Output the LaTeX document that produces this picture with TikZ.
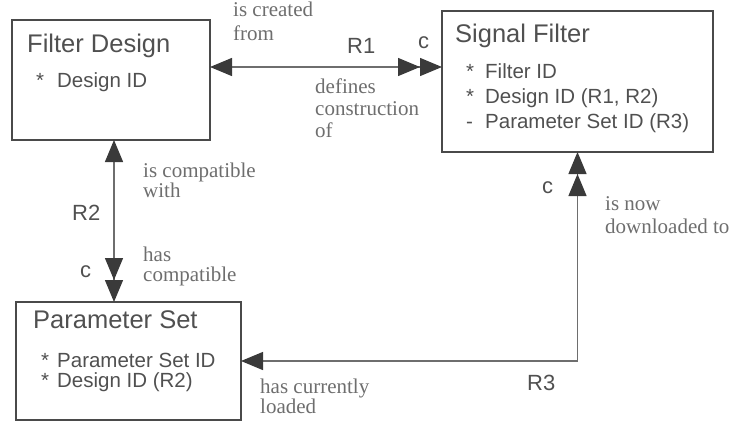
\documentclass[tikz,border=0pt]{standalone}
\usepackage{fontspec}
\setmainfont{Liberation Serif}
\setsansfont{Liberation Sans}
\usepackage{tikz}
\usetikzlibrary{arrows.meta}

\definecolor{boxgray}{HTML}{4A4A4A}
\definecolor{txtgray}{HTML}{505050}
\definecolor{lblgray}{HTML}{6E6E6E}
\definecolor{tipgray}{HTML}{3A3A3A}

\begin{document}
\begin{tikzpicture}[x=1pt, y=-1pt,
        entity/.style={draw=boxgray, line width=1.2pt, anchor=north west, inner sep=0pt, outer sep=0pt},
        title/.style={font=\sffamily\fontsize{25.5}{27}\selectfont, text=txtgray, anchor=base west, inner sep=0pt},
        attr/.style={font=\sffamily\fontsize{20.5}{22}\selectfont, text=txtgray, anchor=base west, inner sep=0pt},
        role/.style={font=\fontsize{21}{22}\selectfont, text=lblgray, anchor=base west, inner sep=0pt, align=left},
        rel/.style={font=\sffamily\fontsize{22}{24}\selectfont, text=txtgray, anchor=base west, inner sep=0pt},
        link/.style={draw=lblgray, line width=1.3pt},
        >={Triangle[length=22pt, width=18pt, color=tipgray]}]
        \useasboundingbox (0,0) rectangle (754,423);

        % entities
        \node[entity, minimum width=198pt, minimum height=120pt] (fd) at (12,20) {};
        \node[entity, minimum width=271pt, minimum height=141pt] (sf) at (442,11) {};
        \node[entity, minimum width=225pt, minimum height=118pt] (ps) at (16,302) {};

        \node[title] (fdname) at (27,52) {Filter Design};
        \node[attr] (fda1) at (36,87) {\makebox[21pt][l]{*}Design ID};

        \node[title] (sfname) at (455,42) {Signal Filter};
        \node[attr] (sfa1) at (466,78) {\makebox[19pt][l]{*}Filter ID};
        \node[attr] (sfa2) at (466,103) {\makebox[19pt][l]{*}Design ID (R1, R2)};
        \node[attr] (sfa3) at (466,128) {\makebox[19pt][l]{-}Parameter Set ID (R3)};

        \node[title] (psname) at (33,328) {Parameter Set};
        \node[attr] (psa1) at (41,367) {\makebox[16pt][l]{*}Parameter Set ID};
        \node[attr] (psa2) at (41,387) {\makebox[16pt][l]{*}Design ID (R2)};

        % relationships
        \coordinate (r1a) at ([yshift=13pt]fd.east);
        \coordinate (r2a) at ([xshift=3pt]fd.south);
        \path (r1a) edge[link, <->>] (r1a -| sf.west);
        \path (r2a) edge[link, <->>] (r2a |- ps.north);
        \draw [link, <<->](sf.south) |- (ps.east);

        \node[rel] (r1) at (347,53) {R1};
        \node[rel] (r1c) at (418,48) {c};
        \node[rel] (r2) at (72,220) {R2};
        \node[rel] (r2c) at (80,277) {c};
        \node[rel] (r3) at (527,390) {R3};
        \node[rel] (r3c) at (542,193) {c};

        % role names (placed by the baseline of their last line)
        \node[role] (fdsf) at (233,40) {is created\\[2pt]from};
        \node[role] (sffd) at (315,137) {defines\\construction\\of};
        \node[role] (fdps) at (143,197) {is compatible\\[-2pt]with};
        \node[role] (psfd) at (143,281) {has\\[-2pt]compatible};
        \node[role] (sfps) at (605,233) {is now\\[1pt]downloaded to};
        \node[role] (pssf) at (260,413) {has currently\\[-2pt]loaded};
    \end{tikzpicture}
\end{document}
